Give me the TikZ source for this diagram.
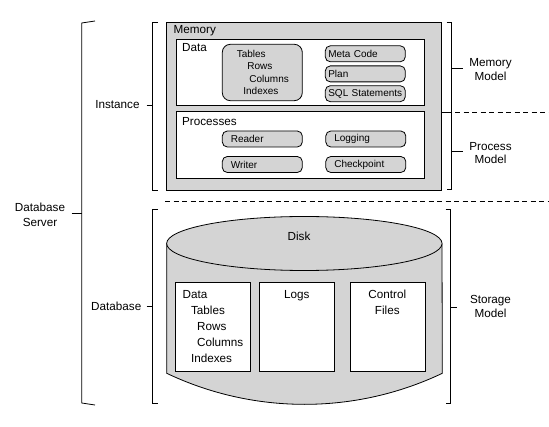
\documentclass[tikz,border=0pt]{standalone}
\usepackage{fontspec}
\setmainfont{Liberation Sans}
\usetikzlibrary{positioning}
\definecolor{boxgray}{RGB}{212,212,212}

\begin{document}
\begin{tikzpicture}[x=1pt, y=-1pt, line width=0.8pt, font=\fontsize{11.7}{14}\selectfont,
  frame/.style={draw, rectangle, inner sep=0pt},
  pill/.style={draw, fill=boxgray, rounded corners=5pt, minimum width=80pt, minimum height=16pt,
    inner ysep=2pt, inner xsep=3pt, text width=74pt, align=left, font=\fontsize{10}{12}\selectfont},
  procpill/.style={pill, inner xsep=8.5pt, text width=63pt},
  side/.style={align=center, font=\fontsize{11.7}{13.5}\selectfont},
  sep/.style={dash pattern=on 5pt off 3.5pt, line width=1.2pt}]
\useasboundingbox (0,0) rectangle (549,427);

% memory
\node[frame, fill=boxgray, minimum width=275.7pt, minimum height=167.3pt] (mem) at (303.9,106.4) {};
\node[frame, fill=white, minimum width=248pt, minimum height=66.4pt] (data) at (300,72.5) {};
\node[frame, fill=white, minimum width=248pt, minimum height=66.6pt] (proc) at (300,145) {};
\node[anchor=west, inner sep=0pt] (mem_t) at (173.3,31) {Memory};
\node[anchor=west, inner sep=0pt] (data_t) at (181.7,47.3) {Data};
\node[anchor=west, inner sep=0pt] (proc_t) at (181.7,121.7) {Processes};
\node[draw, fill=boxgray, rounded corners=8pt, minimum width=80pt, minimum height=56.4pt,
  text width=51pt, align=left, font=\fontsize{10}{12.6}\selectfont] (tables) at (262.3,72.5)
  {Tables\\\hspace*{10.6pt}Rows\\\hspace*{12.6pt}Columns\\\hspace*{6.6pt}Indexes};
\node[pill] (meta) at (365.3,53.8) {Meta Code};
\node[pill] (plan) [below=3.3pt of meta] {Plan};
\node[pill] (sql) [below=3pt of plan] {SQL Statements};
\node[procpill] (reader) at (262.3,139) {Reader};
\node[procpill] (logging) [right=22.7pt of reader] {Logging};
\node[procpill] (writer) [below=8.7pt of reader] {Writer};
\node[procpill] (check) [below=8.7pt of logging] {Checkpoint};

% disk
\path[draw, fill=boxgray] (166.7,243.5) -- (166.7,373.3)
  arc[start angle=244.6, end angle=295.4, radius=321.3pt] -- (442,243.5);
\draw[fill=boxgray] (304.35,243.5) ellipse [x radius=137.7pt, y radius=27pt];
\node (disk) at (299,236.7) {Disk};
\node[frame, fill=white, minimum width=74.3pt, minimum height=89.4pt] (d_data) at (212.9,327) {};
\node[frame, fill=white, minimum width=74.7pt, minimum height=89.4pt] (d_logs) at (296.7,327) {};
\node[frame, fill=white, minimum width=75pt, minimum height=89.4pt] (d_ctrl) at (387.5,327) {};
\node[anchor=north west, inner sep=0pt, align=left, font=\fontsize{11.7}{16}\selectfont] (d_data_t) at (182.3,289.8)
  {Data\\\hspace*{8.4pt}Tables\\\hspace*{14.4pt}Rows\\\hspace*{14.4pt}Columns\\\hspace*{8.4pt}Indexes};
\node[anchor=north, inner sep=0pt] (d_logs_t) at (296.7,289.8) {Logs};
\node[anchor=north, inner sep=0pt, align=center, font=\fontsize{11.7}{16}\selectfont] (d_ctrl_t) at (387.3,289.8) {Control\\Files};

% brackets
\draw (95,21) -- (81.7,23) -- (81.7,403) -- (95,405);
\draw (158,22.7) -- (152.7,22.7) -- (152.7,190) -- (158,190);
\draw (158,209) -- (152.7,209) -- (152.7,403) -- (158,403);
\draw (446.7,22.7) -- (451.7,22.7) -- (451.7,189) -- (446.7,189);
\draw (445.7,209.3) -- (450.7,209.3) -- (450.7,403) -- (445.7,403);

% labels
\node[side, font=\fontsize{11.7}{15}\selectfont] (server) at (40,214.8) {Database\\Server};
\node[anchor=east, inner sep=0pt] (inst) at (140,105) {Instance};
\node[anchor=east, inner sep=0pt] (db) at (141.7,306.7) {Database};
\node[side] (mem_m) at (490.5,69.4) {Memory\\Model};
\node[side] (proc_m) at (490.5,153) {Process\\Model};
\node[side, font=\fontsize{11.7}{14}\selectfont] (stor_m) at (490.5,306.3) {Storage\\Model};
\draw (71.7,213.3) -- (81.7,213.3);
\draw (146.7,105) -- (152.7,105);
\draw (146.7,306.7) -- (152.7,306.7);
\draw (451.7,68.4) -- (462.7,68.4);
\draw (451.7,151.7) -- (462.7,151.7);
\draw (450.7,307.3) -- (456.7,307.3);
\draw (mem.east |- 0,112.3) -- (451.7,112.3);
\draw[sep] (455,112.3) -- (549,112.3);
\draw[sep] (165,201.3) -- (549,201.3);
\end{tikzpicture}
\end{document}
